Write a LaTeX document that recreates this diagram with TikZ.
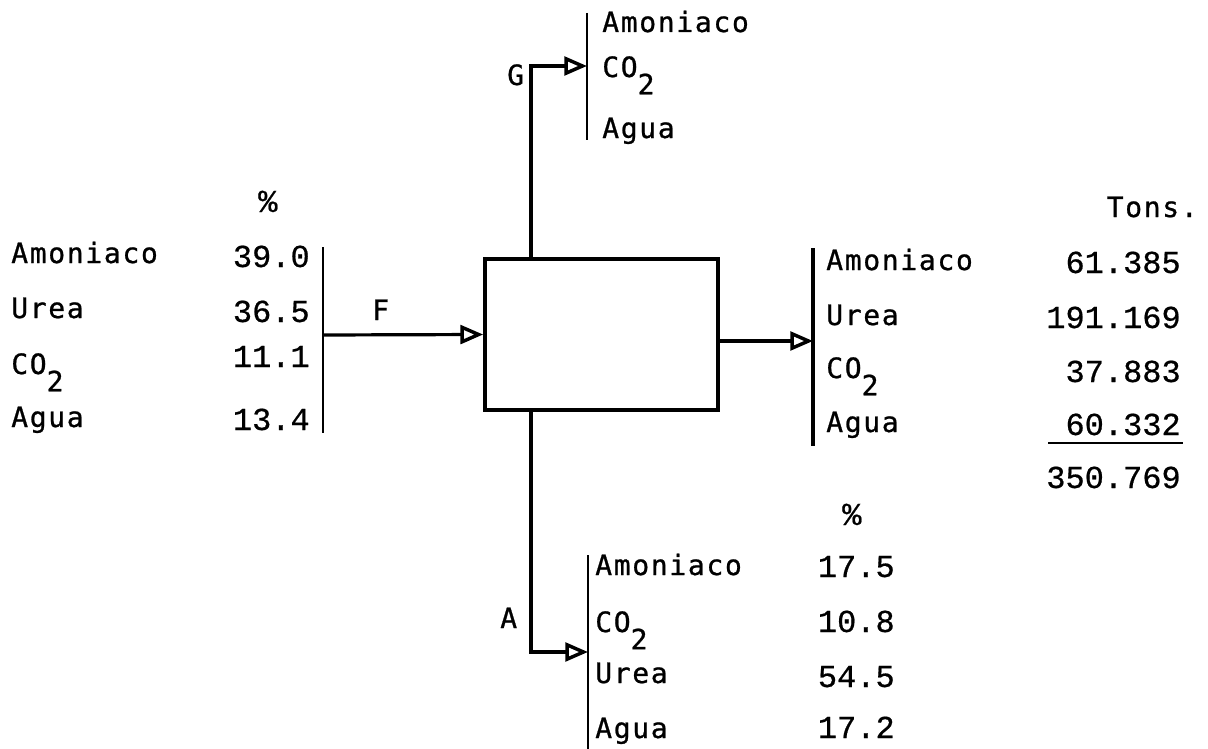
\documentclass[tikz,border=0pt]{standalone}
\usepackage{fontspec}
\usetikzlibrary{arrows.meta}
\newfontfamily\lblfont{DejaVu Sans Mono}[LetterSpace=6, FakeBold=0.8]
\newfontfamily\numfont{Liberation Mono}[FakeBold=0.6]
\newcommand\cotwo{CO\raisebox{-0.62em}{2}}
\tikzset{
  lab/.style={font=\lblfont\fontsize{21}{23}\selectfont, anchor=base west, inner sep=0pt},
  numr/.style={font=\numfont\fontsize{24}{26}\selectfont, anchor=base east, inner sep=0pt},
  flow/.style={line width=2.4pt, -{Triangle[open, length=17pt, width=14pt, line width=2.6pt]}},
  bar/.style={line width=1.8pt},
  unit/.style={draw, line width=2.8pt, inner sep=0pt, minimum width=174.75pt, minimum height=113.25pt}
}
\begin{document}
\begin{tikzpicture}[x=0.75pt,y=-0.75pt]
\useasboundingbox (0,0) rectangle (1208,749);
% unit
\node[unit] (box) at (601.5,334.5) {};
% bars
\coordinate (gT) at (587,13);   \coordinate (gB) at (587,140);
\coordinate (fT) at (323,247);  \coordinate (fB) at (323,433);
\coordinate (rT) at (813,248);  \coordinate (rB) at (813,446);
\coordinate (aT) at (588,555);  \coordinate (aB) at (588,749);
\draw[bar, line width=1.5pt] (gT) -- (gB);
\draw[bar, line width=1.5pt] (fT) -- (fB);
\draw[bar, line width=2.4pt] (rT) -- (rB);
\draw[bar, line width=1.7pt] (aT) -- (aB);
% connection points
\coordinate (gIn) at (587,66);
\coordinate (gOut) at (531,258);
\coordinate (gCorner) at (531,66);
\coordinate (fOut) at (323,335);
\coordinate (rIn) at (813,341);
\coordinate (aOut) at (531,411);
\coordinate (aCorner) at (531,652);
\coordinate (aIn) at (588,652);
% streams
\draw[flow] (gOut) -- (gCorner) -- (gIn);
\draw[flow] (fOut) -- (box.west);
\draw[flow] (box.east |- rIn) -- (rIn);
\draw[flow] (aOut) -- (aCorner) -- (aIn);
% stream letters
\node[lab] (G) at (507,85) {G};
\node[lab] (F) at (372,320) {F};
\node[lab] (A) at (500,628) {A};
% top (G) list
\node[lab] (g1) at (602,32) {Amoniaco};
\node[lab] (g2) at (602,77) {\cotwo};
\node[lab] (g3) at (602,138) {Agua};
% left (F) list
\node[numr, anchor=base west] (fpc) at (258,212) {\%};
\node[lab] (f1) at (11,263) {Amoniaco};
\node[lab] (f2) at (11,318) {Urea};
\node[lab] (f3) at (11,374) {\cotwo};
\node[lab] (f4) at (11,427) {Agua};
\node[numr] (fn1) at (310,267) {39.0};
\node[numr] (fn2) at (310,322) {36.5};
\node[numr] (fn3) at (310,367) {11.1};
\node[numr] (fn4) at (310,430) {13.4};
% right list
\node[lab, anchor=base east] (tons) at (1198,217) {Tons.};
\node[lab] (r1) at (826,270) {Amoniaco};
\node[lab] (r2) at (826,325) {Urea};
\node[lab] (r3) at (826,378) {\cotwo};
\node[lab] (r4) at (826,432) {Agua};
\node[numr] (rn1) at (1181,273) {61.385};
\node[numr] (rn2) at (1181,328) {191.169};
\node[numr] (rn3) at (1181,382) {37.883};
\node[numr] (rn4) at (1181,435) {60.332};
\node[numr] (rtot) at (1181,488) {350.769};
\coordinate (ulL) at (1048,443);
\coordinate (ulR) at (1183,443);
\draw[line width=2pt] (ulL) -- (ulR);
% bottom (A) list
\node[numr, anchor=base west] (apc) at (842,525) {\%};
\node[lab] (a1) at (595,575) {Amoniaco};
\node[lab] (a2) at (595,632) {\cotwo};
\node[lab] (a3) at (595,683) {Urea};
\node[lab] (a4) at (595,738) {Agua};
\node[numr] (an1) at (895,577) {17.5};
\node[numr] (an2) at (895,632) {10.8};
\node[numr] (an3) at (895,687) {54.5};
\node[numr] (an4) at (895,738) {17.2};
\end{tikzpicture}
\end{document}
